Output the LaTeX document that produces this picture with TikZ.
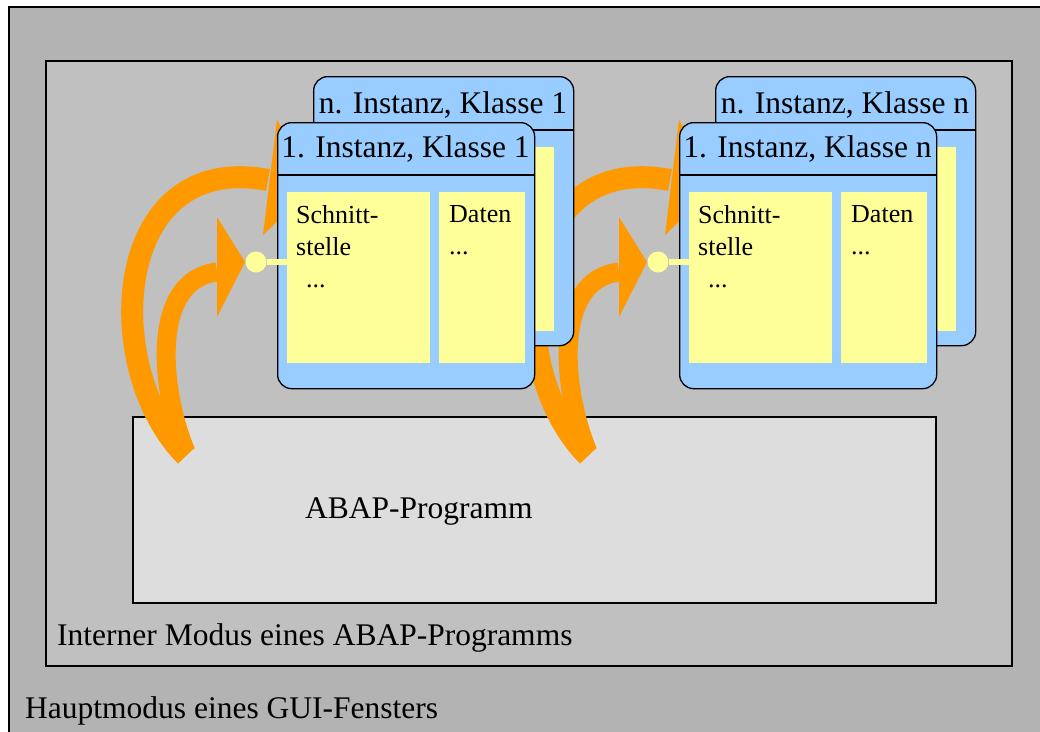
\documentclass[tikz,border=0pt]{standalone}
\usepackage{fontspec}
\setmainfont{Liberation Serif}
\definecolor{hauptgrau}{HTML}{B3B3B3}
\definecolor{internrgrau}{HTML}{C0C0C0}
\definecolor{programmgrau}{HTML}{DDDDDD}
\definecolor{instblau}{HTML}{99CCFF}
\definecolor{feldgelb}{HTML}{FFFF99}
\definecolor{pfeilorange}{HTML}{FF9900}

\begin{document}
\begin{tikzpicture}[x=1pt, y=-1pt]
    % Styles
    \tikzstyle{modus} = [rectangle, draw=black, line width=1.6pt, anchor=north west, inner sep=0]
    \tikzstyle{instanz} = [rectangle, rounded corners=14pt, draw=black, line width=1.3pt, fill=instblau, anchor=north west, inner sep=0]
    \tikzstyle{feld} = [rectangle, fill=feldgelb, anchor=north west, inner sep=0]
    \tikzstyle{grosstext} = [font=\fontsize{31.5}{36}\selectfont, inner sep=0]
    \tikzstyle{feldtext} = [font=\fontsize{26}{32}\selectfont, inner sep=0, align=left, anchor=north west]
    \tikzstyle{bogen} = [draw=pfeilorange]

    \useasboundingbox (0,0) rectangle (1040,731);
    \clip (0,0) rectangle (1040,731);
    \fill[white] (0,0) rectangle (1040,731);

    % Frames
    \node[modus, fill=hauptgrau, minimum width=1100pt, minimum height=800pt] (haupt) at (8,6) {};
    \node[modus, fill=internrgrau, minimum width=966pt, minimum height=605pt] (intern) at (45,60) {};
    \node[modus, fill=programmgrau, minimum width=803pt, minimum height=186pt] (programm) at (132,416) {};

    \node[grosstext, anchor=base west] (programmtext) at (305,518) {ABAP-Programm};
    \node[grosstext, anchor=base west] (interntext) at (57,645) {Interner Modus eines ABAP-Programms};
    \node[grosstext, anchor=base west] (haupttext) at (25,718) {Hauptmodus eines GUI-Fensters};

    % Orange arrows (behind all instances)
    \foreach \dx/\k in {0/1, 402/n} {
        \begin{scope}[xshift=\dx pt]
            \coordinate (aussenfuss\k) at (186,456);
            \coordinate (aussenkopf\k) at (268,180);
            \coordinate (innenfuss\k) at (186,452);
            \coordinate (innenkopf\k) at (217,272);
            \draw[bogen, line width=22pt] (aussenfuss\k) .. controls (100,370) and (110,150) .. (aussenkopf\k);
            \fill[pfeilorange] (277,120) -- (315,185) -- (263,235) -- cycle;
            \draw[bogen, line width=19pt] (innenfuss\k) .. controls (160,390) and (150,280) .. (innenkopf\k);
            \fill[pfeilorange] (217,217) -- (245,262) -- (217,317) -- cycle;
        \end{scope}
    }

    % Instances
    \foreach \dx/\k in {0/1, 402/n} {
        \begin{scope}[xshift=\dx pt]
            % n. Instanz (back)
            \node[instanz, minimum width=260pt, minimum height=269pt] (hinten\k) at (313,76) {};
            \draw[line width=1.3pt] ([yshift=-54pt]hinten\k.north west) -- ([yshift=-54pt]hinten\k.north east);
            \node[feld, minimum width=54pt, minimum height=184pt] (hintenfeld\k) at (500,147) {};
            \node[grosstext, anchor=base] (hintentitel\k) at (443,113) {n. Instanz, Klasse \k};

            % 1. Instanz (front)
            \node[instanz, minimum width=257pt, minimum height=266pt] (vorne\k) at (277,122) {};
            \draw[line width=1.3pt] ([yshift=-53pt]vorne\k.north west) -- ([yshift=-53pt]vorne\k.north east);
            \node[grosstext, anchor=base] (vornetitel\k) at (405.5,157) {1. Instanz, Klasse \k};
            \node[feld, minimum width=143pt, minimum height=171pt] (schnitt\k) at (287,192) {};
            \node[feld, minimum width=86pt, minimum height=171pt] (daten\k) at (439,192) {};
            \node[feldtext] (schnitttext\k) at (296,205) {Schnitt-\\stelle\\\hspace{10pt}...};
            \node[feldtext] (datentext\k) at (449,205) {Daten\\...};

            % Interface lollipop
            \node[circle, fill=feldgelb, minimum size=21pt, inner sep=0] (punkt\k) at (256,262) {};
            \draw[feldgelb, line width=6pt] (punkt\k) -- (punkt\k -| schnitt\k.west);
        \end{scope}
    }
\end{tikzpicture}
\end{document}
